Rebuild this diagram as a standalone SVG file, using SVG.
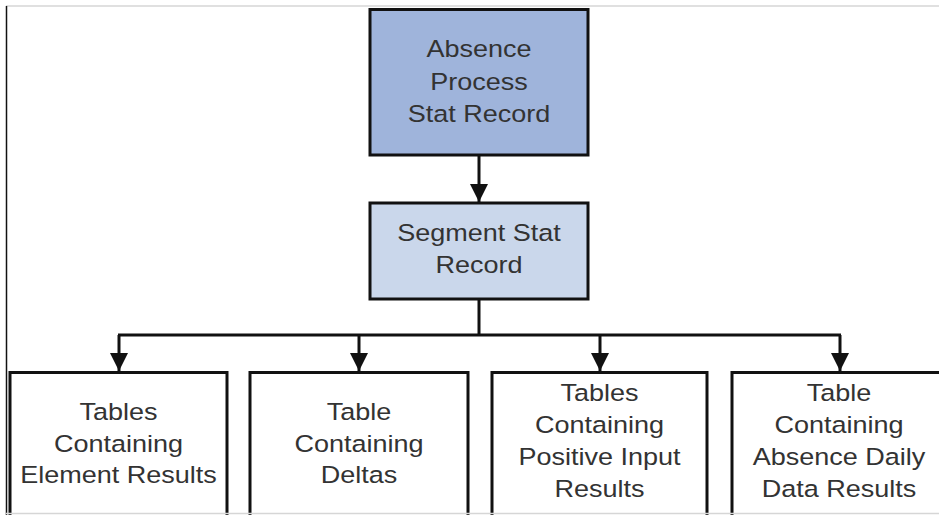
<svg xmlns="http://www.w3.org/2000/svg" width="939" height="515" viewBox="0 0 939 515">
  <style>
    .box { stroke: #111; stroke-width: 3; }
    .top { fill: #9fb4db; }
    .seg { fill: #cad7eb; }
    .tbl { fill: #ffffff; }
    .lbl { font-family: "Liberation Sans", Arial, sans-serif; font-size: 23.5px; fill: #333; text-anchor: middle; }
    .wire { fill: none; stroke: #111; stroke-width: 3; }
    .frame { stroke: #d6d6d6; stroke-width: 1.5; }
  </style>
  <defs>
    <marker id="arrow" viewBox="0 0 18 20" refX="18" refY="9" markerWidth="18" markerHeight="20" markerUnits="userSpaceOnUse" orient="auto">
      <path d="M0,0 L18,9 L0,18 Z" fill="#111"/>
    </marker>
  </defs>

  <rect width="939" height="515" fill="#ffffff"/>

  <!-- page border -->
  <g id="frame">
    <line class="frame" x1="6" y1="6" x2="939" y2="6"/>
    <line x1="6.5" y1="6" x2="6.5" y2="515" stroke="#111" stroke-width="1.5"/>
  </g>

  <!-- connectors -->
  <g id="connectors">
    <line class="wire" x1="479" y1="155" x2="479" y2="202" marker-end="url(#arrow)"/>
    <polyline class="wire" points="479,299 479,335"/>
    <line class="wire" x1="118" y1="335" x2="841" y2="335"/>
    <line class="wire" x1="119" y1="335" x2="119" y2="371" marker-end="url(#arrow)"/>
    <line class="wire" x1="359" y1="335" x2="359" y2="371" marker-end="url(#arrow)"/>
    <line class="wire" x1="600" y1="335" x2="600" y2="371" marker-end="url(#arrow)"/>
    <line class="wire" x1="840" y1="335" x2="840" y2="371" marker-end="url(#arrow)"/>
  </g>

  <g id="absence-process-stat-record">
    <rect class="box top" x="370" y="9.5" width="218" height="145.5"/>
    <text class="lbl" transform="matrix(1.15 0 0 1 479 0)"><tspan x="0" y="57">Absence</tspan><tspan x="0" y="90">Process</tspan><tspan x="0" y="122">Stat Record</tspan></text>
  </g>

  <g id="segment-stat-record">
    <rect class="box seg" x="370" y="203" width="218" height="96"/>
    <text class="lbl" transform="matrix(1.15 0 0 1 479 0)"><tspan x="0" y="241.5">Segment Stat</tspan><tspan x="0" y="273.5">Record</tspan></text>
  </g>

  <g id="element-results">
    <rect class="box tbl" x="10" y="372.5" width="217" height="160"/>
    <text class="lbl" transform="matrix(1.15 0 0 1 118.5 0)"><tspan x="0" y="420.5">Tables</tspan><tspan x="0" y="452">Containing</tspan><tspan x="0" y="483.5">Element Results</tspan></text>
  </g>

  <g id="deltas">
    <rect class="box tbl" x="250" y="372.5" width="218" height="160"/>
    <text class="lbl" transform="matrix(1.15 0 0 1 359 0)"><tspan x="0" y="420.5">Table</tspan><tspan x="0" y="452">Containing</tspan><tspan x="0" y="483.5">Deltas</tspan></text>
  </g>

  <g id="positive-input-results">
    <rect class="box tbl" x="492" y="372.5" width="215" height="160"/>
    <text class="lbl" transform="matrix(1.15 0 0 1 599.5 0)"><tspan x="0" y="401.5">Tables</tspan><tspan x="0" y="433.5">Containing</tspan><tspan x="0" y="465.5">Positive Input</tspan><tspan x="0" y="497.5">Results</tspan></text>
  </g>

  <g id="absence-daily-data-results">
    <rect class="box tbl" x="732" y="372.5" width="218" height="160"/>
    <text class="lbl" transform="matrix(1.15 0 0 1 839 0)"><tspan x="0" y="401.5">Table</tspan><tspan x="0" y="433.5">Containing</tspan><tspan x="0" y="465.5">Absence Daily</tspan><tspan x="0" y="497.5">Data Results</tspan></text>
  </g>

  <line class="frame" x1="6" y1="513.5" x2="939" y2="513.5"/>
</svg>
